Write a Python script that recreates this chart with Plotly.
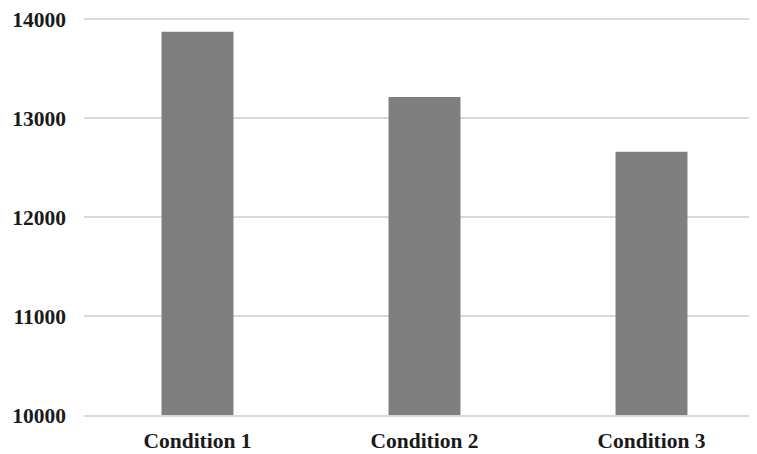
import plotly.graph_objects as go

categories = ["Condition 1", "Condition 2", "Condition 3"]
values = [13870, 13212, 12660]
y_ticks = [10000, 11000, 12000, 13000, 14000]

fig = go.Figure(
    go.Bar(
        x=categories,
        y=values,
        width=0.317,
        marker=dict(color="#7f7f7f", line=dict(width=0)),
    )
)

font_family = "Liberation Serif, Times New Roman, serif"
tick_font = dict(family=font_family, size=21.5, color="#1a1a1a", weight="bold")

# The page has an 8px body margin, so margins are shifted to compensate.
fig.update_layout(
    width=757,
    height=454,
    margin=dict(l=76, r=0, t=5, b=47),
    paper_bgcolor="white",
    plot_bgcolor="white",
    showlegend=False,
    font=tick_font,
)

fig.update_xaxes(
    range=[-0.5, 2.5],
    showgrid=False,
    showline=True,
    linecolor="#d9d9d9",
    linewidth=1.5,
    ticks="",
    ticklabelstandoff=5,
    tickfont=tick_font,
)

fig.update_yaxes(
    range=[10000, 14020],
    tickvals=y_ticks,
    ticktext=[str(v) for v in y_ticks],
    showgrid=True,
    gridcolor="#d9d9d9",
    gridwidth=1.5,
    zeroline=False,
    showline=False,
    ticks="",
    ticklabelstandoff=17,
    ticklabeloverflow="allow",
    tickfont=tick_font,
)

fig.write_html("out.html")
